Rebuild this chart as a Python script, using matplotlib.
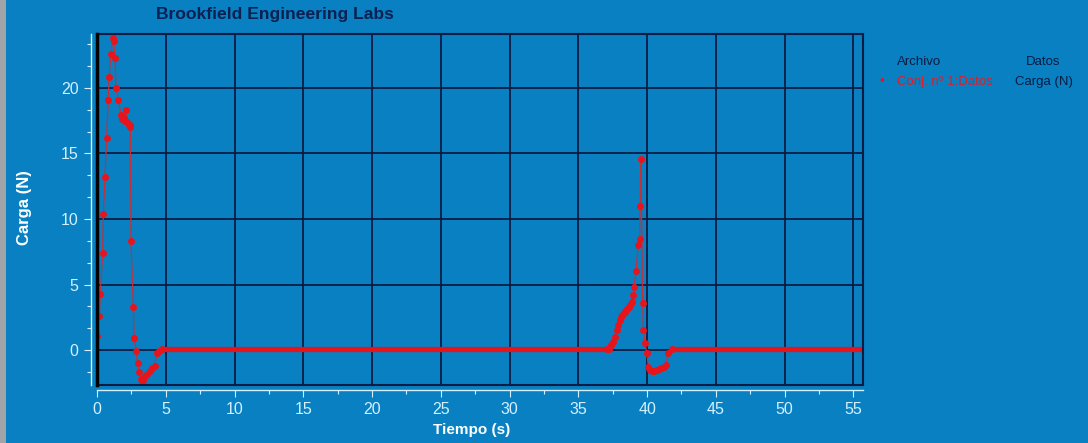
import numpy as np
import matplotlib
matplotlib.use("Agg")
import matplotlib.pyplot as plt
from matplotlib.patches import Rectangle
from matplotlib.ticker import MultipleLocator

# ensayo de carga: tiempo (s) y carga (N)
t_pico1 = [0.00, 0.17, 0.24, 0.41, 0.46, 0.58, 0.70, 0.82, 0.88, 1.00, 1.16, 1.20,
           1.31, 1.38, 1.55, 1.75, 1.85, 1.95, 2.05, 2.10, 2.20, 2.30, 2.38, 2.42,
           2.47, 2.64, 2.70, 2.85, 2.95, 3.08, 3.20, 3.26, 3.37, 3.50, 3.65, 3.85,
           4.00, 4.20, 4.34, 4.50, 4.70]
f_pico1 = [1.1, 2.6, 4.3, 7.4, 10.4, 13.2, 16.2, 19.1, 20.8, 22.6, 23.8, 23.6,
           22.3, 20.0, 19.1, 17.9, 17.6, 17.7, 17.5, 18.3, 17.4, 17.2, 17.0, 17.2,
           8.3, 3.3, 0.9, -0.1, -1.0, -1.7, -2.2, -2.4, -2.3, -2.0, -1.8, -1.6,
           -1.4, -1.2, -0.2, -0.05, 0.05]

t_pico2 = [37.10, 37.20, 37.30, 37.40, 37.55, 37.65, 37.80, 37.90, 38.00, 38.10,
           38.20, 38.30, 38.40, 38.50, 38.60, 38.70, 38.76, 38.90, 39.00, 39.05,
           39.20, 39.35, 39.45, 39.50, 39.54, 39.68, 39.73, 39.85, 39.97, 40.10,
           40.20, 40.34, 40.50, 40.70, 40.85, 41.00, 41.20, 41.40, 41.50, 41.80]
f_pico2 = [0.05, 0.1, 0.2, 0.4, 0.64, 1.0, 1.5, 1.9, 2.3, 2.5,
           2.7, 2.8, 2.9, 3.05, 3.2, 3.3, 3.4, 3.7, 4.2, 4.8,
           6.0, 8.0, 8.5, 11.0, 14.6, 3.6, 1.5, 0.5, -0.25, -1.3,
           -1.5, -1.6, -1.6, -1.5, -1.45, -1.4, -1.3, -1.15, -0.25, 0.05]

# tramos en reposo (puntos muy juntos)
t_reposo1 = [4.70, 37.10]
t_reposo2 = [41.80, 55.60]
f_reposo = [0.05, 0.05]

fondo = "#0880c2"
reja = "#0c1c42"
claro = "#d4f0ff"
rojo = "#e8141c"
rojo_linea = "#c43038"

plt.rcParams["font.family"] = ["Liberation Sans", "DejaVu Sans"]

fig = plt.figure(figsize=(10.88, 4.43), dpi=100, facecolor=fondo)
ax = fig.add_axes([97 / 1088, 1 - 385 / 443, 766 / 1088, 351 / 443])
ax.set_facecolor(fondo)

ax.plot(t_reposo1, f_reposo, color=rojo, lw=3.8, solid_capstyle="round", zorder=3)
ax.plot(t_reposo2, f_reposo, color=rojo, lw=3.8, solid_capstyle="round", zorder=3)
for t, f in [(t_pico1, f_pico1), (t_pico2, f_pico2)]:
    ax.plot(t, f, color=rojo_linea, lw=0.9, marker="o", ms=4,
            mfc=rojo, mec=rojo, zorder=4)

ax.set_xlim(0, 55.7)
ax.set_ylim(-2.67, 24.12)
ax.xaxis.set_major_locator(MultipleLocator(5))
ax.xaxis.set_minor_locator(MultipleLocator(2.5))
ax.yaxis.set_major_locator(MultipleLocator(5))
ax.yaxis.set_minor_locator(MultipleLocator(5 / 3))
ax.grid(True, which="major", color=reja, lw=1.3)
ax.set_axisbelow(True)

# ejes claros desplazados del marco
for lado in ["top", "right"]:
    ax.spines[lado].set_visible(False)
ax.spines["left"].set_position(("outward", 4.3))
ax.spines["bottom"].set_position(("outward", 3.6))
for lado in ["left", "bottom"]:
    ax.spines[lado].set_color(claro)
    ax.spines[lado].set_linewidth(1)
ax.tick_params(which="major", direction="out", length=5, width=0.8,
               color=claro, labelcolor=claro, labelsize=11.5, pad=4)
ax.tick_params(which="minor", direction="out", length=2.9, width=0.8, color=claro)

# marco oscuro del area de dibujo
ax.add_patch(Rectangle((0, 0), 1, 1, transform=ax.transAxes, fill=False,
                       ec=reja, lw=1.5, clip_on=False, zorder=5))
ax.plot([0, 0], [0, 1], transform=ax.transAxes, color="black", lw=2.5,
        clip_on=False, zorder=6)

fig.text(275 / 1088, 1 - 15 / 443, "Brookfield Engineering Labs", color="#0b2152",
         fontsize=12.6, fontweight="bold", ha="center", va="center")
fig.text(25 / 1088, 1 - 208 / 443, "Carga (N)", color="white", fontsize=12,
         fontweight="bold", rotation=90, ha="center", va="center")
fig.text(472 / 1088, 1 - 430 / 443, "Tiempo (s)", color="white", fontsize=11,
         fontweight="bold", ha="center", va="center")

# leyenda
fig.text(897 / 1088, 1 - 62 / 443, "Archivo", color=reja, fontsize=9.5, va="center")
fig.text(1060 / 1088, 1 - 62 / 443, "Datos", color=reja, fontsize=9.5, va="center", ha="right")
fig.text(882 / 1088, 1 - 82 / 443, "•", color=rojo, fontsize=9.5, va="center", ha="center")
fig.text(897 / 1088, 1 - 82 / 443, "Conj. nº 1:Datos", color="#d8202a", fontsize=9.5, va="center")
fig.text(1073 / 1088, 1 - 82 / 443, "Carga (N)", color=reja, fontsize=9.5, va="center", ha="right")

# borde gris de la ventana
fig.add_artist(Rectangle((0, 0), 6 / 1088, 1, transform=fig.transFigure,
                         color="#a0a4a8", lw=0))

fig.savefig("out.png", dpi=100, facecolor=fondo)
